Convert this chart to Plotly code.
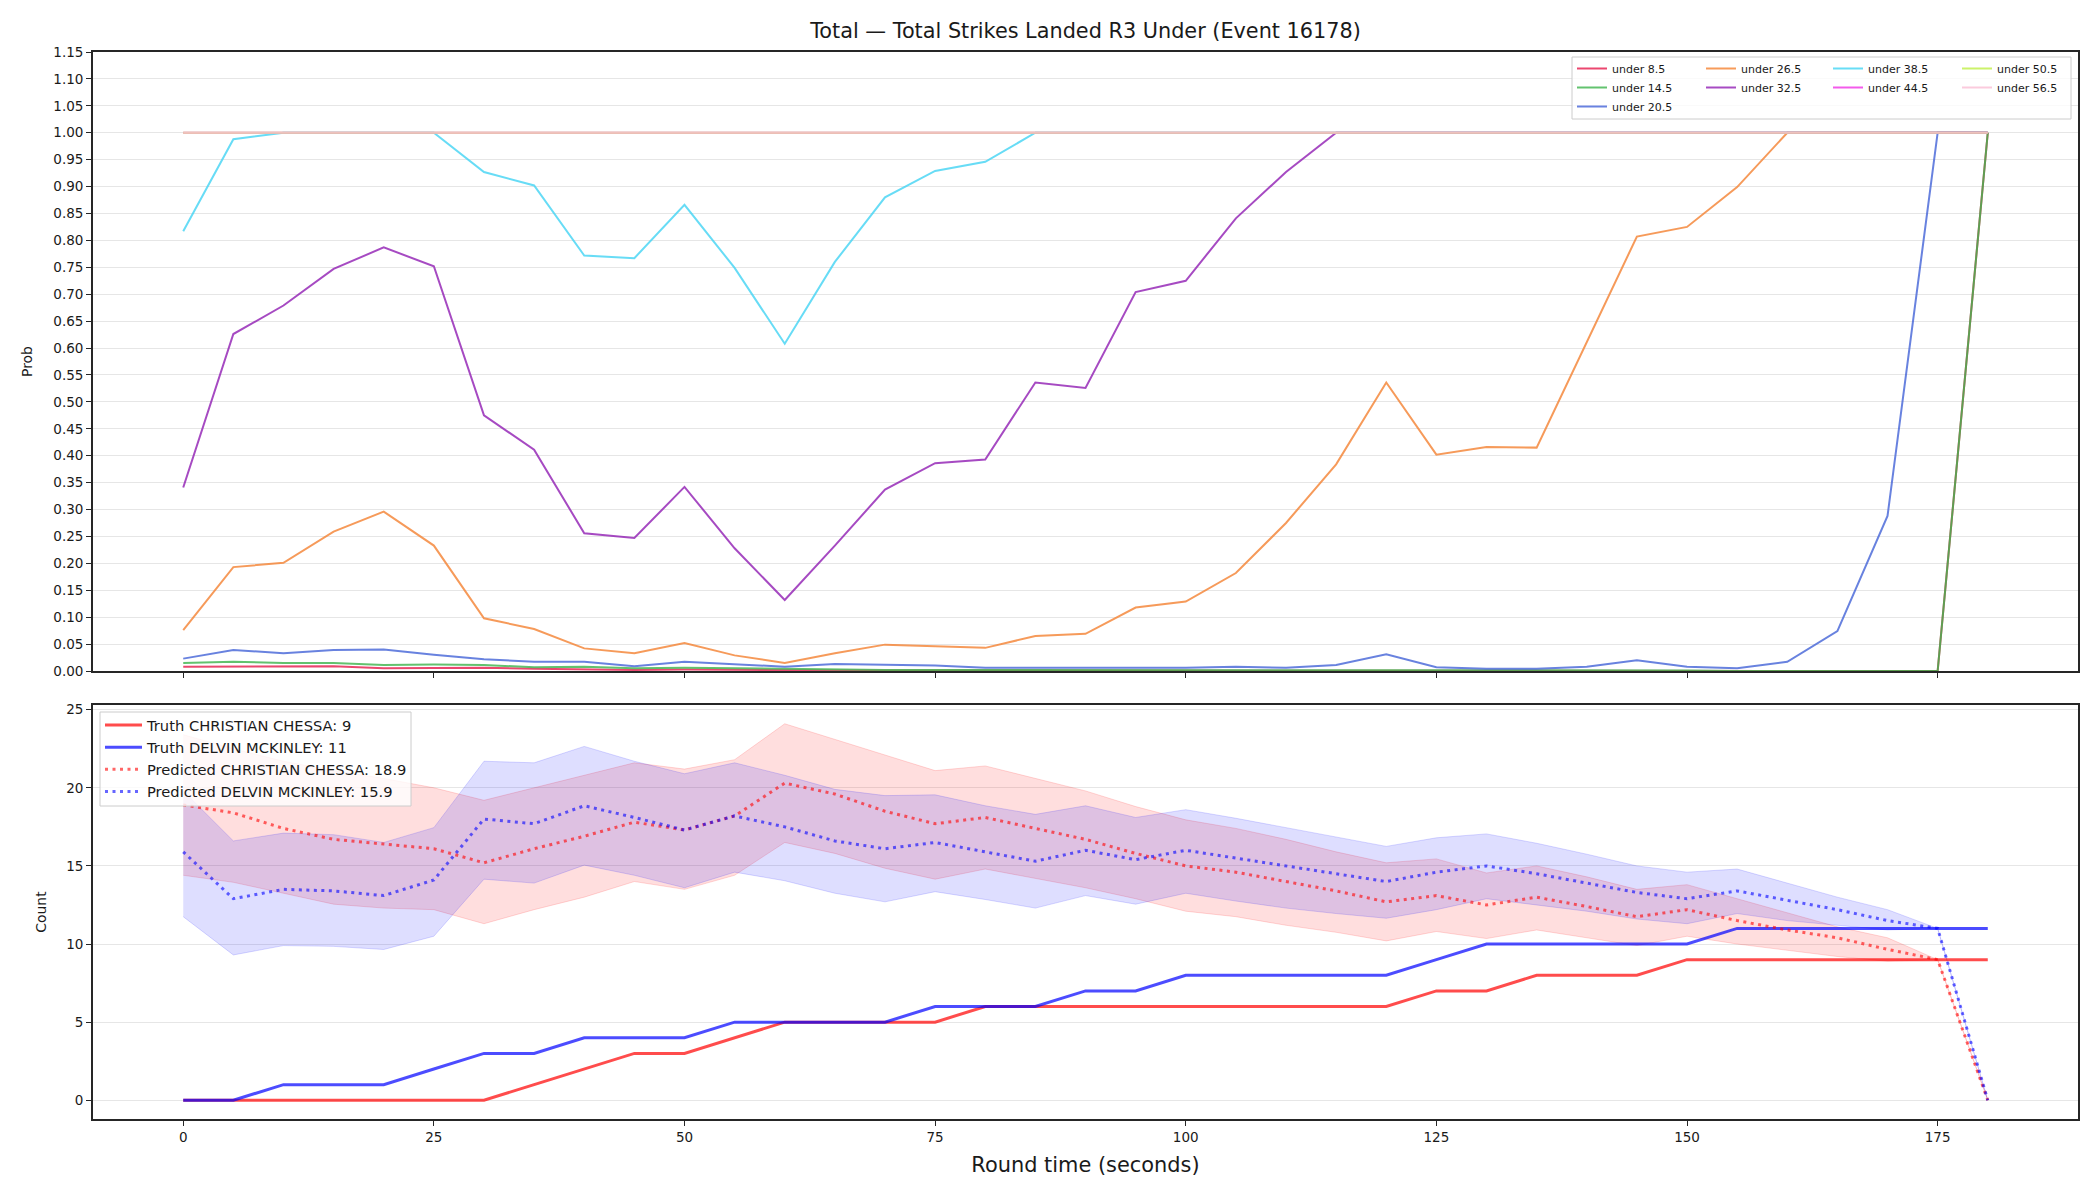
import plotly.graph_objects as go

# ---------------- data ----------------
round_time = list(range(0, 181, 5))

line_labels = ["under 8.5", "under 14.5", "under 20.5", "under 26.5", "under 32.5",
               "under 38.5", "under 44.5", "under 50.5", "under 56.5"]
line_colors = ["#e6194b", "#3cb44b", "#4363d8", "#f58231", "#911eb4",
               "#42d4f4", "#f032e6", "#bfef45", "#fabed4"]

under_8_5 = [0.008, 0.008, 0.008, 0.009, 0.005, 0.005, 0.006, 0.004, 0.003, 0.002, 0.003, 0.002, 0.001,
             0.001, 0.001, 0.001, 0.001, 0.001, 0.001, 0.0, 0.0, 0.0, 0.0, 0.0, 0.0, 0.0,
             0.0, 0.0, 0.0, 0.0, 0.0, 0.0, 0.0, 0.0, 0.0, 0.0, 1.0]
under_14_5 = [0.015, 0.017, 0.015, 0.015, 0.011, 0.012, 0.011, 0.007, 0.008, 0.005, 0.006, 0.005, 0.003,
              0.003, 0.002, 0.002, 0.002, 0.001, 0.001, 0.001, 0.001, 0.001, 0.001, 0.001, 0.001, 0.001,
              0.001, 0.001, 0.001, 0.001, 0.001, 0.0, 0.0, 0.0, 0.0, 0.0, 1.0]
under_20_5 = [0.023, 0.039, 0.033, 0.039, 0.040, 0.030, 0.022, 0.017, 0.017, 0.009, 0.017, 0.012, 0.008,
              0.013, 0.011, 0.010, 0.006, 0.006, 0.006, 0.005, 0.006, 0.008, 0.006, 0.011, 0.031, 0.007,
              0.004, 0.004, 0.008, 0.020, 0.008, 0.005, 0.017, 0.074, 0.288, 1.0, 1.0]
under_26_5 = [0.076, 0.193, 0.201, 0.259, 0.296, 0.233, 0.098, 0.078, 0.042, 0.033, 0.052, 0.029, 0.015,
              0.033, 0.049, 0.046, 0.043, 0.065, 0.069, 0.118, 0.129, 0.182, 0.275, 0.384, 0.536, 0.402,
              0.416, 0.415, 0.611, 0.807, 0.825, 0.899, 1.0, 1.0, 1.0, 1.0, 1.0]
under_32_5 = [0.341, 0.626, 0.679, 0.747, 0.787, 0.752, 0.475, 0.411, 0.256, 0.247, 0.342, 0.228, 0.132,
              0.233, 0.337, 0.386, 0.393, 0.536, 0.526, 0.704, 0.725, 0.841, 0.927, 1.0, 1.0, 1.0,
              1.0, 1.0, 1.0, 1.0, 1.0, 1.0, 1.0, 1.0, 1.0, 1.0, 1.0]
under_38_5 = [0.817, 0.988, 1.0, 1.0, 1.0, 1.0, 0.927, 0.902, 0.772, 0.767, 0.866, 0.749, 0.608,
              0.760, 0.880, 0.929, 0.946, 1.0, 1.0, 1.0, 1.0, 1.0, 1.0, 1.0, 1.0, 1.0,
              1.0, 1.0, 1.0, 1.0, 1.0, 1.0, 1.0, 1.0, 1.0, 1.0, 1.0]
under_44_5 = [1.0] * 37
under_50_5 = [1.0] * 37
under_56_5 = [1.0] * 37
prob_series = [under_8_5, under_14_5, under_20_5, under_26_5, under_32_5,
               under_38_5, under_44_5, under_50_5, under_56_5]

truth_chessa = [0, 0, 0, 0, 0, 0, 0, 1, 2, 3, 3, 4, 5, 5, 5, 5, 6, 6, 6, 6, 6, 6, 6, 6, 6,
                7, 7, 8, 8, 8, 9, 9, 9, 9, 9, 9, 9]
truth_mckinley = [0, 0, 1, 1, 1, 2, 3, 3, 4, 4, 4, 5, 5, 5, 5, 6, 6, 6, 7, 7, 8, 8, 8, 8, 8,
                  9, 10, 10, 10, 10, 10, 11, 11, 11, 11, 11, 11]
pred_chessa = [18.9, 18.4, 17.4, 16.7, 16.4, 16.1, 15.2, 16.1, 16.9, 17.8, 17.3, 18.2, 20.3,
               19.6, 18.5, 17.7, 18.1, 17.4, 16.7, 15.8, 15.0, 14.6, 14.0, 13.4, 12.7, 13.1,
               12.5, 13.0, 12.4, 11.75, 12.2, 11.5, 10.9, 10.4, 9.66, 9.0, 0.0]
pred_mckinley = [15.9, 12.9, 13.5, 13.4, 13.1, 14.1, 18.0, 17.7, 18.85, 18.1, 17.3, 18.2, 17.5,
                 16.6, 16.1, 16.5, 15.9, 15.3, 16.0, 15.4, 16.0, 15.5, 15.0, 14.5, 14.0, 14.6,
                 15.0, 14.5, 13.9, 13.3, 12.9, 13.4, 12.8, 12.2, 11.5, 11.0, 0.0]
chessa_upper = [23.4, 22.5, 21.7, 21.1, 20.6, 20.0, 19.2, 20.0, 20.8, 21.6, 21.2, 21.8, 24.1,
                23.1, 22.05, 21.1, 21.4, 20.6, 19.8, 18.8, 17.95, 17.4, 16.7, 15.9, 15.2, 15.45,
                14.55, 15.0, 14.3, 13.5, 13.8, 12.9, 12.0, 11.1, 10.4, 9.0, 0.0]
chessa_lower = [14.4, 13.95, 13.25, 12.55, 12.3, 12.2, 11.3, 12.2, 13.0, 14.0, 13.5, 14.4, 16.5,
                15.8, 14.85, 14.15, 14.8, 14.2, 13.6, 12.9, 12.1, 11.75, 11.2, 10.75, 10.2, 10.8,
                10.35, 10.9, 10.4, 9.9, 10.5, 10.0, 9.6, 9.2, 8.9, 9.0, 0.0]
mckinley_upper = [19.8, 16.6, 17.1, 17.0, 16.5, 17.45, 21.7, 21.6, 22.65, 21.7, 20.9, 21.6, 20.8,
                  19.9, 19.5, 19.55, 18.85, 18.3, 18.85, 18.1, 18.6, 18.05, 17.45, 16.85, 16.25, 16.8,
                  17.05, 16.45, 15.75, 15.0, 14.6, 14.8, 13.9, 13.0, 12.2, 11.0, 0.0]
mckinley_lower = [11.75, 9.3, 9.9, 9.85, 9.65, 10.5, 14.15, 13.9, 15.05, 14.4, 13.6, 14.6, 14.05,
                  13.25, 12.7, 13.35, 12.85, 12.3, 13.1, 12.55, 13.25, 12.75, 12.3, 11.95, 11.65, 12.2,
                  12.9, 12.5, 12.1, 11.6, 11.3, 11.95, 11.5, 11.2, 10.9, 11.0, 0.0]

x_ticks = [0, 25, 50, 75, 100, 125, 150, 175]
prob_ticks = [round(i * 0.05, 2) for i in range(24)]
count_ticks = [0, 5, 10, 15, 20, 25]

# ---------------- layout geometry (pixels) ----------------
W, H = 2100, 1200
L, R, T, B = 93, 2078, 52, 1119
PW, PH = R - L, B - T


def px(xp):
    return (xp - L) / PW


def py(yp):
    return (B - yp) / PH


FONT = "DejaVu Sans"
INK = "#262626"

fig = go.Figure()

# top panel lines, legend split in columns
legend_of = ["legend", "legend", "legend", "legend2", "legend2",
             "legend3", "legend3", "legend4", "legend4"]
for lab, col, ys, lg in zip(line_labels, line_colors, prob_series, legend_of):
    fig.add_trace(go.Scatter(
        x=round_time, y=ys, mode="lines", name=lab,
        line=dict(color=col, width=2), opacity=0.8,
        xaxis="x", yaxis="y", legend=lg))

# bottom panel bands
def rgba(c, a):
    return f"rgba({c[0]},{c[1]},{c[2]},{a})"

RED = (255, 0, 0)
BLUE = (0, 0, 255)
for up, lo, c in [(chessa_upper, chessa_lower, RED), (mckinley_upper, mckinley_lower, BLUE)]:
    fig.add_trace(go.Scatter(x=round_time, y=up, mode="lines",
                             line=dict(color=rgba(c, 0.15), width=1),
                             showlegend=False, xaxis="x2", yaxis="y2", hoverinfo="skip"))
    fig.add_trace(go.Scatter(x=round_time, y=lo, mode="lines", fill="tonexty",
                             fillcolor=rgba(c, 0.13),
                             line=dict(color=rgba(c, 0.15), width=1),
                             showlegend=False, xaxis="x2", yaxis="y2", hoverinfo="skip"))

fig.add_trace(go.Scatter(x=round_time, y=truth_chessa, mode="lines",
                         name="Truth CHRISTIAN CHESSA: 9",
                         line=dict(color=rgba(RED, 0.7), width=3),
                         xaxis="x2", yaxis="y2", legend="legend5"))
fig.add_trace(go.Scatter(x=round_time, y=truth_mckinley, mode="lines",
                         name="Truth DELVIN MCKINLEY: 11",
                         line=dict(color=rgba(BLUE, 0.7), width=3),
                         xaxis="x2", yaxis="y2", legend="legend5"))
fig.add_trace(go.Scatter(x=round_time, y=pred_chessa, mode="lines",
                         name="Predicted CHRISTIAN CHESSA: 18.9",
                         line=dict(color=rgba(RED, 0.6), width=3, dash="3px,4.5px"),
                         xaxis="x2", yaxis="y2", legend="legend5"))
fig.add_trace(go.Scatter(x=round_time, y=pred_mckinley, mode="lines",
                         name="Predicted DELVIN MCKINLEY: 15.9",
                         line=dict(color=rgba(BLUE, 0.6), width=3, dash="3px,4.5px"),
                         xaxis="x2", yaxis="y2", legend="legend5"))

axis_common = dict(showline=True, linecolor=INK, linewidth=1.8, mirror=True,
                   ticks="outside", ticklen=5, tickwidth=1.3, tickcolor=INK,
                   tickfont=dict(family=FONT, size=13.5, color="#1a1a1a"),
                   zeroline=False)

top_bottom = py(671)
bot_top = py(705)

fig.update_layout(
    width=W, height=H,
    margin=dict(l=L, r=W - R, t=T, b=H - B),
    paper_bgcolor="white", plot_bgcolor="white",
    font=dict(family=FONT, color="#1a1a1a"),
    title=dict(text="Total — Total Strikes Landed R3 Under (Event 16178)",
               x=0.5, xref="paper", y=1 - 31 / H, yref="container",
               xanchor="center", yanchor="middle",
               font=dict(family=FONT, size=20.8, color="#1a1a1a")),
    xaxis=dict(domain=[0, 1], anchor="y", range=[-9, 189], tickvals=x_ticks,
               showticklabels=False, showgrid=False, matches="x2", **axis_common),
    yaxis=dict(domain=[top_bottom, 1], anchor="x", range=[0, 1.15],
               tickvals=prob_ticks, tickformat=".2f", showgrid=True,
               gridcolor="#e6e6e6", gridwidth=1,
               title=dict(text="Prob", font=dict(family=FONT, size=13.9), standoff=17),
               **axis_common),
    xaxis2=dict(domain=[0, 1], anchor="y2", range=[-9, 189], tickvals=x_ticks,
                showgrid=False,
                title=dict(text="Round time (seconds)", font=dict(family=FONT, size=20.9),
                           standoff=13),
                **axis_common),
    yaxis2=dict(domain=[0, bot_top], anchor="x2", range=[-1.2, 25.3],
                tickvals=count_ticks, showgrid=True, gridcolor="#e6e6e6", gridwidth=1,
                title=dict(text="Count", font=dict(family=FONT, size=13.9), standoff=16),
                **axis_common),
    shapes=[
        dict(type="rect", xref="paper", yref="paper",
             x0=px(1572), x1=px(2071), y0=py(119), y1=py(57),
             fillcolor="rgba(255,255,255,0.8)", line=dict(color="#cccccc", width=1),
             layer="above"),
        dict(type="rect", xref="paper", yref="paper",
             x0=px(100), x1=px(411), y0=py(806), y1=py(712),
             fillcolor="rgba(255,255,255,0.8)", line=dict(color="#cccccc", width=1),
             layer="above"),
    ],
)

leg_font = dict(family=FONT, size=11, color="#1a1a1a")
for name, xl in [("legend", 1572), ("legend2", 1701), ("legend3", 1828), ("legend4", 1957)]:
    fig.update_layout({name: dict(x=px(xl), y=py(54), xanchor="left", yanchor="top",
                                  xref="paper", yref="paper", traceorder="normal",
                                  bgcolor="rgba(0,0,0,0)", borderwidth=0,
                                  font=leg_font, itemwidth=30, tracegroupgap=0)})
fig.update_layout(legend5=dict(x=px(100), y=py(709), xanchor="left", yanchor="top",
                               xref="paper", yref="paper", traceorder="normal",
                               bgcolor="rgba(0,0,0,0)", borderwidth=0,
                               font=dict(family=FONT, size=14.7, color="#1a1a1a"),
                               itemwidth=37))

fig.write_html("out.html")
